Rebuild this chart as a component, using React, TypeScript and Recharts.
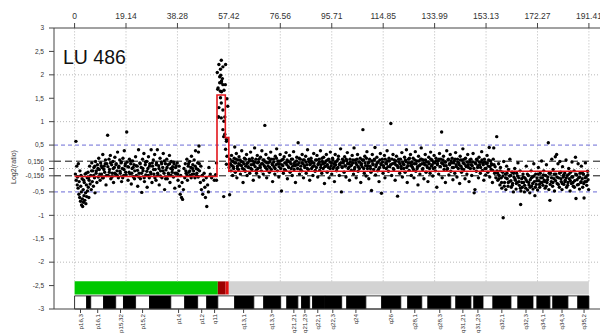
import React from 'react';
import { ScatterChart, Scatter, XAxis, YAxis, ReferenceLine, ReferenceArea } from 'recharts';

// chromosome 4 positions (Mb) and log2 ratios
const topTicks = [0, 19.14, 38.28, 57.42, 76.56, 95.71, 114.85, 133.99, 153.13, 172.27, 191.41];
const yTicks = [-3, -2.5, -2, -1.5, -1, -0.5, -0.156, 0, 0.156, 0.5, 1, 1.5, 2, 2.5, 3];
const gridY = [2, 1, 0, -1, -2];
const thresholdY = [0.156, -0.156];
const outerY = [0.5, -0.5];

const pArm: [number, number][] = [
  [0.3,-0.12],[0.5,0.58],[0.6,-0.25],[0.8,0.05],[1.0,-0.35],[1.1,-0.18],[1.3,-0.42],[1.4,0.1],[1.6,-0.55],[1.7,-0.28],[1.9,-0.62],[2.0,-0.05],[2.2,-0.7],[2.3,-0.38],[2.5,-0.5],[2.6,-0.78],[2.8,-0.22],[2.9,-0.65],[3.0,-0.81],[3.2,-0.45],[3.3,-0.72],[3.5,-0.58],[3.6,-0.3],[3.8,-0.68],[3.9,-0.12],[4.1,-0.52],[4.2,-0.75],[4.4,-0.35],[4.5,-0.6],[4.7,-0.2],[4.8,-0.48],[5.0,-0.08],[5.1,-0.4],[5.3,-0.62],[5.4,-0.25],[5.6,0.05],[5.8,-0.33],[6.0,-0.15],[6.2,-0.45],[6.4,0.12],[6.6,-0.28],[6.8,-0.05],[7.0,-0.38],[7.2,0.02],[7.4,-0.2],[7.6,-0.52],[7.8,0.15],[8.0,-0.1],
  [8.3,-0.3],[8.5,0.08],[8.8,-0.18],[9.0,0.22],[9.2,-0.02],[9.5,-0.25],[9.7,0.12],[10.0,-0.12],[10.2,0.02],[10.5,0.3],[10.7,-0.2],[11.0,0.05],[11.2,-0.08],[11.5,0.18],[11.7,-0.35],[12.0,0.1],[12.3,0.71],[12.5,-0.15],[12.8,0.2],[13.0,-0.02],[13.3,0.28],[13.5,-0.22],[13.8,0.08],[14.0,-0.1],[14.3,0.15],[14.5,-0.3],[14.8,0.02],[15.0,0.24],[15.3,-0.12],[15.5,0.1],[15.8,-0.05],[16.0,0.35],[16.3,-0.2],[16.5,0.05],[16.8,0.18],[17.0,-0.1],[17.3,0.12],[17.5,-0.28],[17.8,0.0],[18.0,0.22],[18.3,-0.15],[18.5,0.38],[18.8,0.06],[19.0,-0.08],[19.4,0.78],[19.6,0.14],[19.9,-0.25],[20.1,0.03],[20.4,0.2],[20.6,-0.12],[20.9,0.1],[21.1,-0.33],[21.4,0.0],[21.6,0.16],[21.9,-0.18],[22.1,0.08],[22.4,-0.05],[22.7,0.25],
  [23.0,-0.15],[23.3,0.05],[23.5,-0.38],[23.8,0.4],[24.0,-0.1],[24.3,0.12],[24.5,-0.22],[24.8,0.02],[25.0,-0.51],[25.3,0.2],[25.5,-0.05],[25.8,0.32],[26.0,-0.28],[26.3,0.08],[26.5,-0.14],[26.8,0.15],[27.0,-0.4],[27.3,0.0],[27.5,0.25],[27.8,-0.2],[28.0,0.1],[28.3,-0.08],[28.5,0.4],[28.8,-0.3],[29.0,0.05],[29.3,0.18],[29.5,-0.12],[29.8,0.3],[30.0,-0.02],[30.3,-0.25],[30.5,0.12],[30.8,0.4],[31.0,-0.15],[31.3,0.06],[31.5,-0.35],[31.8,0.22],[32.0,-0.05],[32.3,0.14],[32.5,-0.2],[32.8,0.02],[33.0,0.32],[33.3,-0.1],[33.5,-0.45],[33.8,0.1],[34.0,-0.03],[34.3,0.2],[34.5,-0.22],[34.8,0.08],[35.0,-0.12],[35.3,0.28],[35.5,-0.3],[35.8,0.0],[36.0,0.15],[36.3,-0.08],[36.5,0.04],[36.8,-0.18],[37.0,0.1],[37.3,-0.42],[37.6,0.02],[37.9,-0.1],
  [38.2,0.12],[38.5,-0.25],[38.8,-0.05],[39.0,-0.38],[39.3,-0.55],[39.5,-0.15],[39.8,-0.62],[40.0,-0.3],[40.2,-0.66],[40.5,-0.45],[40.7,0.0],[41.0,-0.2],[41.2,0.1],[41.5,-0.1],[41.8,0.2],[42.0,-0.25],[42.3,0.05],[42.5,-0.08],[42.8,0.15],[43.0,-0.15],[43.3,0.02],[43.5,0.26],[43.8,-0.12],[44.0,0.08],[44.3,-0.05],[44.5,0.18],[44.8,-0.2],[45.0,0.38],[45.3,0.0],[45.5,-0.1],[45.8,0.12],
  [46.0,-0.18],[46.1,0.35],[46.3,0.48],[46.5,-0.05],[46.8,-0.3],[47.0,0.05],[47.2,-0.45],[47.5,-0.15],[47.7,-0.55],[48.0,-0.25],[48.2,-0.1],[48.5,-0.4],[48.7,-0.62],[49.0,-0.2],[49.2,-0.81],[49.5,-0.35],[49.8,-0.5],[50.0,0.02],[50.5,-0.12],[51.0,-0.2],[52.0,-0.25],[52.5,-0.13],[52.8,0.12],[52.8,-0.25],
];

// denser core of the p-arm cloud
const pArmCore: [number, number][] = [
  [2.4,-0.15],[3.4,-0.25],[4.3,-0.1],[5.2,-0.2],[6.3,-0.05],[7.1,-0.15],[7.5,0.05],[8.1,-0.05],[8.7,0.0],[9.4,-0.12],[9.9,0.06],[10.4,-0.2],[10.9,-0.02],[11.4,0.1],[11.9,-0.15],[12.4,0.04],[12.9,-0.08],[13.4,0.12],[13.9,-0.18],[14.4,0.0],[14.9,-0.1],[15.4,0.08],[15.9,-0.15],[16.4,0.02],[16.9,-0.06],[17.4,0.14],[17.9,-0.2],[18.4,-0.02],[18.9,0.1],[19.2,-0.14],[19.8,0.04],[20.3,-0.08],[20.8,0.16],[21.3,-0.1],[21.8,0.02],[22.3,-0.22],[22.9,0.06],[23.4,-0.04],[23.9,-0.18],[24.4,0.1],[24.9,-0.1],[25.4,0.0],[25.9,-0.2],[26.4,0.14],[26.9,-0.06],[27.4,-0.15],[27.9,0.05],[28.4,-0.12],[28.9,0.12],[29.4,-0.02],[29.9,-0.2],[30.4,0.08],[30.9,-0.1],[31.4,0.0],[31.9,-0.16],[32.4,0.1],[32.9,-0.05],[33.4,0.16],[33.9,-0.22],[34.4,0.02],[34.9,-0.1],[35.4,0.1],[35.9,-0.15],[36.4,-0.02],[36.9,0.14],[37.4,-0.1],[37.8,0.06],[38.4,-0.12],[38.9,0.05],[41.4,-0.05],[41.9,-0.15],[42.4,0.1],[42.9,-0.05],[43.4,-0.2],[43.9,0.0],[44.4,-0.12],[44.9,0.05],[45.4,-0.15],[45.9,-0.02],[46.4,0.1],
];

const peak: [number, number][] = [
  [53.1,2.05],[53.3,1.69],[53.4,1.72],[53.5,1.1],[53.7,2.22],[53.7,1.3],[53.6,1.1],[54.0,1.96],[54.0,1.83],[54.3,2.12],[54.3,1.65],[54.3,1.51],[54.4,1.99],[54.6,2.31],[54.6,1.83],[54.6,1.4],[54.6,1.08],[54.7,1.87],[54.7,1.64],[55.0,1.92],[55.2,2.17],[55.2,1.79],[55.2,1.25],[55.2,0.83],[55.5,0.68],[55.5,-0.6],[55.6,1.67],[55.6,1.01],[55.9,0.73],[55.9,1.1],[56.1,1.79],[56.2,2.22],[56.2,0.41],[56.5,0.62],[56.5,0.09],[56.5,0.58],[56.7,1.49],[56.7,0.26],[57.0,1.33],
];

const qArmProximal: [number, number][] = [
  [57.5,0.02],[57.7,-0.56],[57.8,0.2],[58.0,0.1],[58.2,-0.05],[58.4,0.28],[58.6,0.06],[58.8,-0.15],[59.0,0.15],[59.2,0.0],[59.4,0.22],[59.6,0.46],[59.8,-0.08],[60.0,0.12],[60.2,0.32],[60.4,-0.2],[60.6,0.05],[60.8,0.18],[61.0,-0.02],[61.2,0.25],[61.5,0.08],[61.7,-0.12],[62.0,0.15],[62.2,0.38],[62.5,0.0],[62.7,-0.3],[63.0,0.1],[63.2,0.22],[63.5,-0.06],[63.7,0.05],[64.0,0.3],[64.2,-0.15],[64.5,0.12],[64.7,0.02],[65.0,0.2],[65.2,-0.1],[65.5,0.35],[65.7,0.08],[66.0,-0.02],[66.2,0.16],[66.5,-0.25],[66.7,0.1],[67.0,0.44],[67.2,0.04],[67.5,0.2],[67.7,-0.1],[68.0,0.28],[68.2,0.0],[68.5,0.14],[68.7,-0.18],[69.0,0.06],[69.2,0.24],[69.5,-0.05],[69.7,0.38],[70.0,0.1],[70.2,-0.12],[70.5,0.18],[70.8,0.92],[71.0,0.02],[71.2,0.3],[71.5,-0.2],[71.7,0.12],[72.0,0.05],[72.2,0.22],[72.5,-0.08],[72.7,0.15],[73.0,0.35],[73.2,-0.02],[73.5,0.1],[73.7,-0.28],[74.0,0.2],[74.2,0.04],[74.5,-0.12],[74.7,0.26],[75.0,0.08],[75.2,0.42],[75.5,-0.05],[75.7,0.16],[76.0,-0.18],[76.2,0.1],[76.5,0.3],[76.7,0.0],[77.0,-0.48],[77.2,0.18],[77.5,0.06],[77.7,-0.1],[78.0,0.25],[78.2,0.12],[78.5,-0.04],[78.7,0.34],[79.0,0.08],[79.2,-0.22],[79.5,0.15],[79.7,0.02],[80.0,0.28],[80.2,-0.08],[80.5,0.1],[80.7,0.2],[81.0,-0.15],[81.2,0.05],[81.5,0.36],[81.7,-0.02],[82.0,0.14],[82.2,-0.3],[82.5,0.08],[82.7,0.24],[83.0,0.0],[83.2,0.55],[83.5,0.12],[83.7,-0.12],[84.0,0.2],[84.2,0.05],[84.5,-0.05],[84.7,0.3],[85.0,0.1],[85.2,-0.2],[85.5,0.18],[85.7,0.02],[86.0,0.26],[86.2,-0.1],[86.5,0.08],[86.7,0.4],[87.0,-0.02],[87.2,0.15],[87.5,-0.25],[87.7,0.1],[88.0,0.22],[88.2,0.0],[88.5,0.12],[88.7,-0.15],[89.0,0.32],[89.2,0.06],[89.5,-0.06],[89.7,0.18],[90.0,0.02],[90.2,0.28],[90.5,-0.18],[90.7,0.1],[91.0,0.2],[91.2,-0.04],[91.5,0.38],[91.7,0.08],[92.0,-0.1],[92.2,0.15],[92.5,0.0],[92.7,0.24],[93.0,-0.32],[93.2,0.12],[93.5,0.05],[93.7,0.3],[94.0,-0.08],[94.2,0.18],[94.5,0.02],[94.7,-0.2],[95.0,0.14],[95.2,0.35],[95.5,0.06],[95.7,-0.12],[96.0,0.22],[96.2,0.0],[96.5,0.1],[96.7,-0.28],[97.0,0.3],[97.2,0.08],[97.5,-0.05],[97.7,0.16],[98.0,0.02],[98.2,0.26],[98.5,-0.15],[98.7,0.1],[99.0,0.42],[99.3,-0.5],[99.5,0.04],[99.7,0.2],
];

const qArmMiddle: [number, number][] = [
  [100.0,0.12],[100.3,-0.08],[100.5,0.25],[100.8,0.05],[101.0,-0.18],[101.3,0.16],[101.5,0.34],[101.8,0.0],[102.0,0.1],[102.3,-0.25],[102.5,0.2],[102.8,0.06],[103.0,-0.04],[103.3,0.28],[103.5,0.12],[103.8,-0.12],[104.0,0.44],[104.3,0.02],[104.5,0.18],[104.8,-0.2],[105.0,0.08],[105.3,0.3],[105.5,-0.06],[105.8,0.14],[106.0,0.0],[106.3,0.22],[106.5,-0.3],[106.8,0.1],[107.0,0.04],[107.3,0.83],[107.5,0.18],[107.8,-0.1],[108.0,0.26],[108.3,0.06],[108.5,-0.16],[108.8,0.36],[109.0,0.0],[109.3,0.12],[109.5,-0.22],[109.8,0.2],[110.0,0.05],[110.3,-0.08],[110.5,-0.47],[110.8,0.3],[111.0,0.1],[111.3,-0.02],[111.5,0.18],[111.8,0.45],[112.0,-0.14],[112.3,0.08],[112.5,0.24],[112.8,-0.05],[113.0,0.14],[113.3,-0.28],[113.5,0.02],[113.8,0.32],[114.0,0.1],[114.2,-0.53],[114.5,0.2],[114.8,-0.1],[115.0,0.06],[115.3,0.28],[115.5,-0.2],[115.8,0.12],[116.0,0.0],[116.3,0.38],[116.5,0.16],[116.8,-0.06],[117.0,0.22],[117.3,0.04],[117.7,0.96],[118.0,-0.15],[118.3,0.1],[118.5,0.3],[118.8,-0.02],[119.0,0.18],[119.3,-0.25],[119.5,0.08],[119.8,0.26],[120.2,-0.59],[120.4,0.02],[120.7,0.14],[121.0,-0.1],[121.3,0.2],[121.5,0.05],[121.8,0.34],[122.0,-0.18],[122.3,0.1],[122.5,0.0],[122.8,0.24],[123.0,-0.08],[123.3,0.15],[123.5,0.4],[123.8,-0.3],[124.0,0.06],[124.3,0.2],[124.5,-0.04],[124.8,0.12],[125.0,0.3],[125.3,-0.15],[125.5,0.08],[125.8,0.02],[126.0,0.22],[126.3,-0.2],[126.5,0.1],[126.8,0.36],[127.0,-0.06],[127.3,0.16],[127.5,0.0],[127.8,-0.35],[128.0,0.26],[128.3,0.06],[128.5,-0.12],[128.8,0.2],[129.0,0.44],[129.3,0.1],[129.5,-0.02],[129.8,0.18],[130.0,-0.22],[130.3,0.08],[130.5,0.3],[130.8,-0.08],[131.0,0.14],[131.3,0.02],[131.5,-0.28],[131.8,0.24],[132.0,0.1],[132.3,-0.1],[132.5,0.35],[132.8,0.05],[133.0,0.18],[133.3,-0.16],[133.5,0.0],[133.8,0.28],[134.0,0.12],[134.3,-0.05],[134.5,0.22],[134.8,-0.4],[135.0,0.08],[135.3,0.16],[135.5,-0.12],[135.8,0.32],[136.0,0.04],[136.3,0.2],[136.6,0.78],[136.8,-0.2],[137.0,0.1],[137.3,0.26],[137.5,-0.02],[137.8,0.14],[138.0,-0.3],[138.3,0.06],[138.5,0.38],[138.8,0.0],[139.0,0.18],[139.3,-0.14],[139.5,0.1],[139.8,0.3],[140.0,-0.06],[140.3,0.12],[140.5,0.22],[140.8,-0.24],[141.0,0.02],[141.3,0.16],[141.5,-0.1],[141.8,0.34],[142.0,0.08],[142.3,-0.18],[142.5,0.2],[142.8,0.0],[143.0,0.12],[143.3,-0.32],[143.5,0.26],[143.8,0.05],[144.0,-0.08],[144.3,0.18],[144.5,0.42],[144.8,-0.02],[145.0,0.1],[145.3,-0.22],[145.5,0.22],[145.8,0.04],[146.0,-0.12],[146.3,0.3],[146.5,0.08],[146.8,-0.28],[147.0,0.14],[147.3,0.0],[147.5,0.2],[147.8,-0.15],[148.0,0.06],[148.3,0.32],[148.7,-0.52],[149.0,-0.45],[149.3,0.1],[149.5,-0.06],[149.8,0.18],[150.0,0.02],[150.3,-0.2],[150.5,0.24],[150.8,0.08],[151.0,-0.1],[151.3,0.14],[151.5,0.36],[151.8,-0.04],[152.0,0.12],[152.3,-0.25],[152.5,0.2],[152.8,0.0],[153.0,-0.14],[153.3,0.1],[153.5,0.28],[153.8,-0.08],[154.0,0.05],[154.3,0.45],[154.5,-0.18],[154.8,0.16],[155.0,-0.02],[155.3,0.08],[155.5,-0.3],[155.8,0.2],[156.0,0.44],[156.3,-0.1],[156.5,0.04],[156.8,-0.2],
];

// denser core of the q-arm cloud (slightly above the segment)
const qArmCore: [number, number][] = [
  [58.1,0.08],[58.6,0.16],[59.1,0.04],[59.6,0.12],[60.1,0.2],[60.6,0.0],[61.1,0.1],[61.6,0.18],[62.1,0.06],[62.6,0.14],[63.1,-0.02],[63.6,0.2],[64.1,0.1],[64.6,0.04],[65.1,0.16],[65.6,0.0],[66.1,0.22],[66.6,0.08],[67.1,0.14],[67.6,-0.04],[68.1,0.12],[68.6,0.2],[69.1,0.02],[69.6,0.1],[70.1,0.18],[70.6,0.06],[71.1,0.14],[71.6,-0.02],[72.1,0.12],[72.6,0.02],[73.1,0.2],[73.6,0.08],[74.1,0.14],[74.6,0.0],[75.1,0.22],[75.6,0.1],[76.1,0.04],[76.6,0.16],[77.1,0.08],[77.6,0.2],[78.1,-0.02],[78.6,0.12],[79.1,0.18],[79.6,0.04],[80.1,0.14],[80.6,0.0],[81.1,0.2],[81.6,0.1],[82.1,0.06],[82.6,0.16],[83.1,0.08],[83.6,0.22],[84.1,-0.02],[84.6,0.12],[85.1,0.18],[85.6,0.06],[86.1,0.14],[86.6,0.0],[87.1,0.2],[87.6,0.08],[88.1,0.16],[88.6,0.04],[89.1,0.12],[89.6,-0.04],[90.1,0.18],[90.6,0.08],[91.1,0.14],[91.6,0.02],[92.1,0.22],[92.6,0.1],[93.1,0.04],[93.6,0.16],[94.1,0.08],[94.6,0.2],[95.1,0.0],[95.6,0.12],[96.1,0.18],[96.6,0.04],[97.1,0.14],[97.6,0.0],[98.1,0.2],[98.6,0.08],[99.1,0.12],[99.6,0.02],
  [100.1,0.16],[100.6,0.06],[101.1,0.2],[101.6,0.1],[102.1,0.02],[102.6,0.14],[103.1,0.08],[103.6,0.18],[104.1,-0.02],[104.6,0.12],[105.1,0.2],[105.6,0.04],[106.1,0.14],[106.6,0.08],[107.1,0.18],[107.6,0.0],[108.1,0.12],[108.6,0.22],[109.1,0.06],[109.6,0.14],[110.1,0.0],[110.6,0.16],[111.1,0.08],[111.6,0.2],[112.1,0.04],[112.6,0.12],[113.1,-0.02],[113.6,0.18],[114.1,0.08],[114.6,0.14],[115.1,0.02],[115.6,0.2],[116.1,0.1],[116.6,0.04],[117.1,0.16],[117.6,0.08],[118.1,0.2],[118.6,0.0],[119.1,0.12],[119.6,0.16],[120.1,0.06],[120.6,0.2],[121.1,0.1],[121.6,0.0],[122.1,0.14],[122.6,0.08],[123.1,0.18],[123.6,0.02],[124.1,0.12],[124.6,0.22],[125.1,0.06],[125.6,0.14],[126.1,-0.02],[126.6,0.18],[127.1,0.1],[127.6,0.04],[128.1,0.16],[128.6,0.08],[129.1,0.2],[129.6,0.0],[130.1,0.12],[130.6,0.18],[131.1,0.06],[131.6,0.14],[132.1,0.0],[132.6,0.2],[133.1,0.08],[133.6,0.14],[134.1,0.02],[134.6,0.16],[135.1,0.1],[135.6,0.2],[136.1,0.04],[136.6,0.12],[137.1,0.18],[137.6,0.06],[138.1,0.14],[138.6,-0.02],[139.1,0.2],[139.6,0.08],[140.1,0.16],[140.6,0.02],[141.1,0.12],[141.6,0.2],[142.1,0.04],[142.6,0.14],[143.1,0.08],[143.6,0.18],[144.1,0.0],[144.6,0.12],[145.1,0.2],[145.6,0.06],[146.1,0.14],[146.6,0.02],[147.1,0.18],[147.6,0.08],[148.1,0.14],[148.6,0.0],[149.1,0.12],[149.6,0.2],[150.1,0.06],[150.6,0.14],[151.1,0.02],[151.6,0.18],[152.1,0.08],[152.6,0.14],[153.1,0.0],[153.6,0.12],[154.1,0.18],[154.6,0.04],[155.1,0.1],[155.6,-0.04],[156.1,0.08],
];

const qArmDistal: [number, number][] = [
  [157.1,0.68],[157.2,-0.05],[157.5,-0.25],[157.8,0.1],[158.0,-0.15],[158.3,-0.35],[158.5,0.02],[158.8,-0.2],[159.0,-0.42],[159.3,-0.08],[159.5,-1.05],[159.7,0.15],[160.0,-0.3],[160.3,-0.12],[160.5,-0.45],[160.8,0.05],[161.0,-0.22],[161.3,-0.38],[161.5,-0.02],[161.8,-0.28],[162.0,0.2],[162.3,-0.15],[162.5,-0.4],[162.8,-0.08],[163.0,-0.32],[163.3,-0.5],[163.5,-0.18],[163.8,0.0],[164.0,-0.25],[164.3,-0.44],[164.5,-0.1],[164.8,-0.3],[165.0,0.12],[165.3,-0.2],[165.5,-0.36],[165.8,-0.05],[166.0,-0.77],[166.1,-0.48],[166.4,-0.22],[166.6,-0.4],[166.9,-0.12],[167.1,-0.3],[167.4,-0.5],[167.6,-0.2],[167.9,-0.42],[168.1,0.05],[168.4,-0.28],[168.6,-0.46],[168.9,-0.15],[169.1,-0.35],[169.4,-0.52],[169.6,-0.24],[169.9,-0.05],[170.1,-0.38],[170.4,-0.18],[170.6,-0.44],[170.9,0.1],[171.1,-0.28],[171.3,-0.58],[171.6,-0.12],[171.8,-0.34],[172.1,-0.2],[172.3,-0.46],[172.6,0.02],[172.8,-0.26],[173.1,-0.4],[173.3,-0.1],[173.6,-0.3],[173.8,0.16],[174.1,-0.2],[174.3,-0.36],[174.6,-0.05],[174.8,-0.25],[175.1,-0.42],[175.3,-0.15],[175.6,0.08],[175.8,-0.3],[176.1,-0.18],[176.3,0.55],[176.5,-0.45],[176.9,-0.68],[177.1,-0.1],[177.4,-0.28],[177.6,0.2],[177.9,-0.38],[178.1,-0.02],[178.4,-0.22],[178.6,-0.48],[178.9,0.25],[179.1,-0.12],[179.4,0.3],[179.6,-0.32],[179.9,0.1],[180.1,-0.2],[180.4,-0.4],[180.6,0.15],[180.9,-0.08],[181.1,-0.28],[181.4,-0.45],[181.6,0.04],[181.9,-0.18],[182.1,-0.34],[182.4,-0.1],[182.6,-0.25],[182.9,0.18],[183.1,-0.4],[183.4,-0.15],[183.6,-0.3],[183.9,0.0],[184.1,-0.22],[184.4,-0.48],[184.6,-0.08],[184.9,-0.32],[185.1,0.14],[185.4,-0.18],[185.6,-0.38],[185.9,-0.05],[186.1,-0.26],[186.4,0.24],[186.6,-0.64],[186.9,-0.14],[187.1,-0.35],[187.4,0.1],[187.6,-0.2],[187.9,-0.44],[188.1,-0.1],[188.4,-0.3],[188.6,0.05],[188.9,-0.22],[189.1,-0.4],[189.4,-0.12],[189.6,-0.63],[189.9,-0.28],[190.1,0.12],[190.4,-0.18],[190.6,-0.36],[190.9,-0.06],[191.1,-0.24],[191.3,-0.45],
];

const qDistalCore: [number, number][] = [
  [157.4,-0.1],[157.9,-0.22],[158.4,-0.05],[158.9,-0.3],[159.4,-0.16],[159.9,-0.38],[160.4,-0.2],[160.9,-0.1],[161.4,-0.3],[161.9,-0.16],[162.4,-0.26],[162.9,-0.36],[163.4,-0.1],[163.9,-0.22],[164.4,-0.32],[164.9,-0.16],[165.4,-0.28],[165.9,-0.42],[166.5,-0.3],[167.0,-0.18],[167.5,-0.36],[168.0,-0.24],[168.5,-0.12],[169.0,-0.3],[169.5,-0.4],[170.0,-0.2],[170.5,-0.32],[171.0,-0.16],[171.5,-0.4],[172.0,-0.26],[172.5,-0.12],[173.0,-0.34],[173.5,-0.2],[174.0,-0.3],[174.5,-0.14],[175.0,-0.28],[175.5,-0.38],[176.0,-0.24],[176.6,-0.1],[177.0,-0.34],[177.5,-0.2],[178.0,-0.3],[178.5,-0.12],[179.0,-0.26],[179.5,-0.18],[180.0,-0.34],[180.5,-0.1],[181.0,-0.22],[181.5,-0.32],[182.0,-0.14],[182.5,-0.28],[183.0,-0.2],[183.5,-0.36],[184.0,-0.12],[184.5,-0.26],[185.0,-0.18],[185.5,-0.3],[186.0,-0.4],[186.5,-0.12],[187.0,-0.24],[187.5,-0.34],[188.0,-0.18],[188.5,-0.28],[189.0,-0.1],[189.5,-0.32],[190.0,-0.2],[190.5,-0.28],[191.0,-0.14],
];

// segmentation (red step line)
const segX = [0, 53.0, 53.0, 56.1, 56.1, 57.4, 57.4, 191.4];
const segY = [-0.17, -0.17, 1.57, 1.57, 0.66, 0.66, -0.06, -0.06];

// status bar above the ideogram
const statusStart = [0, 53.3, 56.2, 57.4];
const statusEnd = [53.3, 56.2, 57.4, 191.4];
const statusKind = ['normal', 'gain', 'amp', 'unknown'];

// cytobands
const bandStart = [0, 4.5, 6.0, 10.8, 15.3, 18.2, 22.7, 27.9, 35.8, 41.0, 45.8, 49.2, 53.3, 59.6, 66.7, 70.4, 76.7, 79.0, 83.1, 84.5, 87.5, 88.6, 93.1, 99.4, 101.3, 108.4, 114.3, 121.4, 124.0, 129.2, 131.5, 140.0, 141.9, 147.5, 148.6, 152.0, 155.7, 162.4, 165.0, 170.6, 172.1, 176.9, 178.0, 183.6, 187.3];
const bandEnd = [4.5, 6.0, 10.8, 15.3, 18.2, 22.7, 27.9, 35.8, 41.0, 45.8, 49.2, 53.3, 59.6, 66.7, 70.4, 76.7, 79.0, 83.1, 84.5, 87.5, 88.6, 93.1, 99.4, 101.3, 108.4, 114.3, 121.4, 124.0, 129.2, 131.5, 140.0, 141.9, 147.5, 148.6, 152.0, 155.7, 162.4, 165.0, 170.6, 172.1, 176.9, 178.0, 183.6, 187.3, 191.4];
const bandStain = ['w', 'b', 'w', 'b', 'w', 'b', 'w', 'b', 'w', 'b', 'w', 'b', 'w', 'b', 'w', 'b', 'w', 'b', 'w', 'b', 'w', 'b', 'b', 'w', 'b', 'w', 'b', 'w', 'b', 'w', 'b', 'w', 'b', 'w', 'b', 'w', 'b', 'w', 'b', 'w', 'b', 'w', 'b', 'w', 'b'];

const bandNames = ['p16,3', 'p16,1', 'p15,32', 'p15,2', 'p14', 'p12', 'q11', 'q13,1', 'q13,3', 'q21,21', 'q21,23', 'q22,1', 'q22,3', 'q24', 'q26', 'q28,1', 'q28,3', 'q31,21', 'q31,23', 'q32,1', 'q32,3', 'q34,1', 'q34,3', 'q35,2'];
const bandPos = [2.2, 8.6, 17.1, 25.3, 38.7, 47.3, 52.1, 62.9, 73.4, 81.6, 85.7, 90.5, 96.1, 104.7, 117.7, 126.6, 135.9, 144.5, 150.1, 159.0, 168.0, 174.3, 181.4, 189.6];

const statusColors: Record<string, string> = { normal: '#00c800', gain: '#9c0000', amp: '#e01010', unknown: '#d3d3d3' };

const FONT = '"Liberation Sans", Arial, sans-serif';
const X_DOMAIN: [number, number] = [-7.66, 199.07];

const toPts = (arr: [number, number][]) => arr.map(([x, y]) => ({ x, y }));
const allPoints = [
  ...toPts(pArm), ...toPts(pArmCore), ...toPts(peak), ...toPts(qArmProximal),
  ...toPts(qArmMiddle), ...toPts(qArmCore), ...toPts(qArmDistal), ...toPts(qDistalCore),
];
const segLine = segX.map((x, i) => ({ x, y: segY[i] }));
const bandAnchors = bandPos.map((x) => ({ x, y: -3 }));

const Dot = (p: any) => <circle cx={p.cx} cy={p.cy} r={1.7} fill="#000" />;
const NoDot = () => <g />;

const BandTick = ({ x, y, payload }: any) => {
  const idx = bandPos.indexOf(payload.value);
  return (
    <g transform={`translate(${x},${y})`}>
      <text transform="rotate(-90)" textAnchor="end" dy="0.35em" fontSize={6.2} fill="#333" fontFamily={FONT}>
        {bandNames[idx]}
      </text>
    </g>
  );
};

export default function App() {
  return (
    <div style={{ position: 'fixed', left: 0, top: 0, width: 600, height: 334, overflow: 'hidden', background: '#fff' }}>
      <ScatterChart width={620} height={334} margin={{ top: 8, right: 10.5, bottom: 0, left: 10 }}>
        <XAxis
          xAxisId="top"
          orientation="top"
          type="number"
          dataKey="x"
          domain={X_DOMAIN}
          ticks={topTicks}
          interval={0}
          height={20}
          allowDataOverflow
          tickSize={5}
          tickMargin={4}
          stroke="#444"
          tick={{ fontSize: 8.5, fill: '#333', fontFamily: FONT }}
        />
        <XAxis
          xAxisId="band"
          orientation="bottom"
          type="number"
          dataKey="x"
          domain={X_DOMAIN}
          ticks={bandPos}
          interval={0}
          height={25}
          allowDataOverflow
          tickSize={4}
          tickMargin={1}
          stroke="#444"
          tick={<BandTick />}
        />
        <YAxis
          type="number"
          dataKey="y"
          domain={[-3, 3]}
          ticks={yTicks}
          interval={0}
          width={44}
          allowDataOverflow
          tickSize={5}
          tickMargin={5}
          stroke="#444"
          tickFormatter={(v: number) => String(v).replace('.', ',')}
          tick={{ fontSize: 6.5, fill: '#333', fontFamily: FONT }}
        />
        {gridY.map((v) => (
          <ReferenceLine key={'gy' + v} xAxisId="top" y={v} stroke="#b8b8b8" strokeDasharray="1 2" />
        ))}
        {topTicks.map((v) => (
          <ReferenceLine
            key={'gx' + v}
            xAxisId="top"
            segment={[{ x: v, y: -2.41 }, { x: v, y: 3 }]}
            stroke="#b8b8b8"
            strokeDasharray="1 2"
          />
        ))}
        {outerY.map((v) => (
          <ReferenceLine key={'o' + v} xAxisId="top" y={v} stroke="#6b6bd6" strokeDasharray="4 3" />
        ))}
        {thresholdY.map((v) => (
          <ReferenceLine key={'t' + v} xAxisId="top" y={v} stroke="#111" strokeDasharray="7 4" />
        ))}
        <Scatter xAxisId="band" data={bandAnchors} shape={NoDot} isAnimationActive={false} />
        <Scatter xAxisId="top" data={allPoints} shape={Dot} isAnimationActive={false} />
        <Scatter
          xAxisId="top"
          data={segLine}
          shape={NoDot}
          line={{ stroke: '#e3161c', strokeWidth: 1.6 }}
          lineType="joint"
          isAnimationActive={false}
        />
        {statusStart.map((s, i) => (
          <ReferenceArea
            key={'s' + i}
            xAxisId="top"
            x1={s}
            x2={statusEnd[i]}
            y1={-2.69}
            y2={-2.41}
            fill={statusColors[statusKind[i]]}
            fillOpacity={1}
            stroke="none"
          />
        ))}
        {bandStart.map((s, i) => (
          <ReferenceArea
            key={'b' + i}
            xAxisId="top"
            x1={s}
            x2={bandEnd[i]}
            y1={-3}
            y2={-2.72}
            fill={bandStain[i] === 'b' ? '#000' : '#fff'}
            fillOpacity={1}
            stroke="#000"
            strokeWidth={0.8}
          />
        ))}
      </ScatterChart>
      <svg width={600} height={334} style={{ position: 'absolute', left: 0, top: 0, pointerEvents: 'none' }}>
        <text x={63} y={64} fontSize={19.5} fill="#111" fontFamily={FONT}>LU 486</text>
        <text x={16} y={167} fontSize={7} fill="#333" fontFamily={FONT} textAnchor="middle" transform="rotate(-90 16 167)">
          Log2(ratio)
        </text>
      </svg>
    </div>
  );
}
